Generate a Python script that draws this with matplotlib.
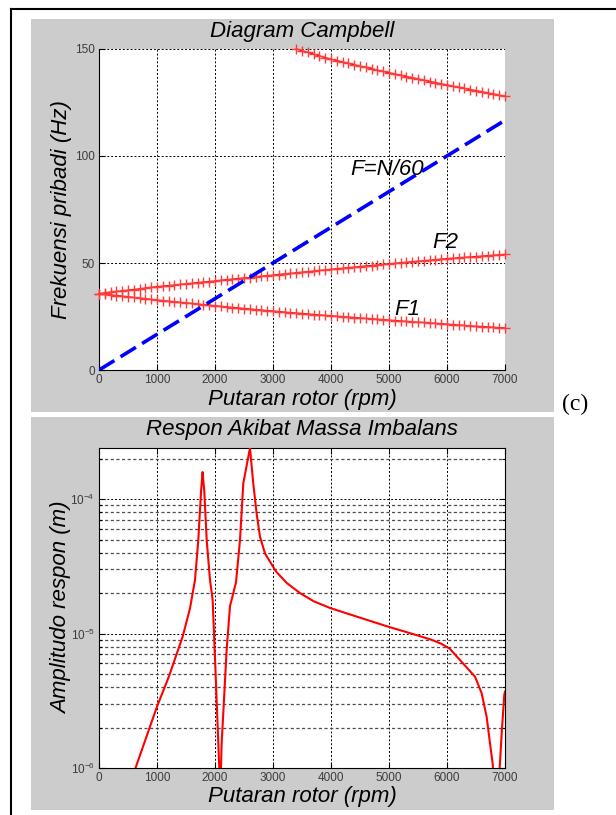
import matplotlib
matplotlib.use('Agg')
import matplotlib.pyplot as plt
from matplotlib.patches import Rectangle
from matplotlib.lines import Line2D
from matplotlib.ticker import NullFormatter, LogLocator
import numpy as np

# ---- Campbell diagram data (Hz vs rpm, sampled every 100 rpm) ----
rpm = np.arange(0, 7100, 100)
f1 = [35.7, 35.4, 35.1, 34.8, 34.5, 34.2, 33.9, 33.6, 33.3, 33.0, 32.7,
      32.4, 32.1, 31.9, 31.6, 31.3, 31.1, 30.8, 30.5, 30.3, 30.0,
      29.7, 29.5, 29.2, 29.0, 28.7, 28.5, 28.2, 28.0, 27.7, 27.5,
      27.3, 27.0, 26.8, 26.6, 26.4, 26.2, 25.9, 25.7, 25.5, 25.3,
      25.1, 24.9, 24.7, 24.5, 24.3, 24.1, 23.9, 23.7, 23.5, 23.3,
      23.1, 22.9, 22.7, 22.5, 22.3, 22.2, 22.0, 21.8, 21.6, 21.4,
      21.2, 21.0, 20.8, 20.6, 20.4, 20.3, 20.1, 19.9, 19.8, 19.6]
f2 = [35.7, 36.0, 36.4, 36.7, 37.0, 37.3, 37.6, 37.9, 38.3, 38.6, 38.9,
      39.2, 39.4, 39.7, 40.0, 40.2, 40.5, 40.8, 41.1, 41.3, 41.6,
      41.9, 42.2, 42.4, 42.7, 43.0, 43.2, 43.5, 43.8, 44.0, 44.3,
      44.6, 44.9, 45.1, 45.4, 45.7, 45.9, 46.2, 46.5, 46.7, 47.0,
      47.3, 47.5, 47.8, 48.0, 48.3, 48.6, 48.8, 49.1, 49.3, 49.6,
      49.8, 50.1, 50.3, 50.6, 50.8, 51.0, 51.3, 51.5, 51.8, 52.0,
      52.2, 52.4, 52.6, 52.8, 53.0, 53.2, 53.4, 53.6, 53.8, 54.0]
rpm3 = np.arange(3400, 7100, 100)
f3 = [150.0, 149.2, 148.4, 147.6, 146.8, 146.0, 145.2,
      144.6, 143.9, 143.3, 142.6, 142.0, 141.4, 140.8, 140.1, 139.5, 138.9,
      138.3, 137.7, 137.1, 136.6, 136.0, 135.4, 134.8, 134.3, 133.7, 133.2,
      132.6, 132.1, 131.6, 131.0, 130.5, 130.0, 129.5, 129.0, 128.4, 127.9]
rpm_line = [0, 7000]
f_line = [0, 116.7]

# ---- unbalance response data (m vs rpm) ----
rpm_resp = [550, 630, 1000, 1206, 1443, 1569, 1655, 1712, 1760, 1786, 1800,
            1815, 1857, 1914, 1960, 2017, 2057, 2074, 2090, 2103, 2115, 2155,
            2200, 2259, 2362, 2431, 2488, 2603, 2660, 2718, 2776, 2862, 2948,
            3050, 3236, 3466, 3700, 3983, 4459, 5000, 5474, 5744, 5900, 6050,
            6224, 6483, 6598, 6684, 6741, 6787, 6827, 6865, 6902, 6943, 6988,
            7000]
amp = [7.0e-7, 1.0e-6, 2.86e-6, 4.8e-6, 9.5e-6, 1.54e-5, 2.5e-5, 4.95e-5,
       1.15e-4, 1.59e-4, 1.35e-4, 1.15e-4, 4.95e-5, 2.5e-5, 1.77e-5, 4.28e-6,
       1.53e-6, 1.0e-6, 4.0e-7, 1.0e-6, 1.53e-6, 3.2e-6, 7.5e-6, 1.6e-5,
       2.4e-5, 4.95e-5, 1.31e-4, 2.4e-4, 1.31e-4, 7.8e-5, 5.25e-5, 3.94e-5,
       3.43e-5, 2.9e-5, 2.38e-5, 2.0e-5, 1.74e-5, 1.55e-5, 1.33e-5, 1.12e-5,
       9.74e-6, 8.95e-6, 8.4e-6, 7.7e-6, 6.35e-6, 4.78e-6, 3.59e-6, 2.4e-6,
       1.53e-6, 1.08e-6, 6.0e-7, 2.0e-7, 9.0e-7, 1.81e-6, 3.5e-6, 3.7e-6]

xticks = [0, 1000, 2000, 3000, 4000, 5000, 6000, 7000]
yticks_top = [0, 50, 100, 150]

plt.rcParams['font.family'] = ['Liberation Sans']
LBL = dict(family='Liberation Sans', style='italic', fontsize=16)
GRID = dict(color='k', linestyle=(0, (2, 2)), linewidth=0.7)

fig = plt.figure(figsize=(6.16, 8.15), dpi=100)
fig.patch.set_facecolor('white')

# gray panels and outer frame
for y0 in (0.4945, 0.0061):
    fig.add_artist(Rectangle((0.0503, y0), 0.849, 0.4822, transform=fig.transFigure,
                             facecolor='#cccccc', edgecolor='none', zorder=-10))
fig.add_artist(Line2D([0.0179, 0.0179], [0.989, 0.0], transform=fig.transFigure,
                      color='k', lw=1.5))
fig.add_artist(Line2D([0.0179, 1.0], [0.989, 0.989], transform=fig.transFigure,
                      color='k', lw=1.5))

# ---- top: Campbell diagram ----
ax = fig.add_axes([0.1607, 0.5460, 0.6591, 0.3939])
ax.set_facecolor('white')
mk = dict(color='red', lw=1.0, marker='+', markersize=7, markeredgewidth=1.0,
          markeredgecolor='#ff3c3c', clip_on=False, zorder=3)
ax.plot(rpm, f1, **mk)
ax.plot(rpm, f2, **mk)
ax.plot(rpm3, f3, **mk)
ax.plot(rpm_line, f_line, color='blue', lw=2.6, linestyle=(0, (5, 2)), zorder=4)
ax.set_xlim(0, 7000)
ax.set_ylim(0, 150)
ax.set_xticks(xticks)
ax.set_yticks(yticks_top)
ax.grid(True, **GRID)
ax.spines['top'].set_visible(False)
ax.spines['right'].set_visible(False)
ax.tick_params(direction='in', length=4, width=0.8, labelsize=8.5,
               labelcolor='#3c3c3c', pad=3)
ax.text(4330, 91.1, 'F=N/60', ha='left', va='baseline', **LBL)
ax.text(5740, 57.0, 'F2', ha='left', va='baseline', **LBL)
ax.text(5100, 25.7, 'F1', ha='left', va='baseline', **LBL)
ax.set_title('Diagram Campbell', pad=8.5, **LBL)
ax.set_xlabel('Putaran rotor (rpm)', **LBL)
ax.set_ylabel('Frekuensi pribadi (Hz)', **LBL)
ax.xaxis.set_label_coords(0.5, -0.059)
ax.yaxis.set_label_coords(-0.066, 0.5)

# ---- bottom: unbalance response ----
ax2 = fig.add_axes([0.1607, 0.0577, 0.6591, 0.3926])
ax2.set_facecolor('white')
ax2.plot(rpm_resp, amp, color='red', lw=1.5, zorder=3)
ax2.set_yscale('log')
ax2.set_xlim(0, 7000)
ax2.set_ylim(1e-6, 2.4e-4)
ax2.set_xticks(xticks)
ax2.yaxis.set_major_locator(LogLocator(base=10))
ax2.yaxis.set_minor_locator(LogLocator(base=10, subs=np.arange(2, 10)))
ax2.yaxis.set_minor_formatter(NullFormatter())
ax2.grid(True, which='major', **GRID)
ax2.grid(True, which='minor', axis='y', color='0.3', linestyle=(0, (2.5, 2)),
         linewidth=0.9)
ax2.tick_params(which='both', direction='in', top=True, right=True, width=0.8,
                labelsize=8.5, labelcolor='#3c3c3c', pad=3)
ax2.tick_params(which='major', length=4)
ax2.tick_params(which='minor', length=2)
ax2.set_title('Respon Akibat Massa Imbalans', pad=9.4, **LBL)
ax2.set_xlabel('Putaran rotor (rpm)', **LBL)
ax2.set_ylabel('Amplitudo respon (m)', **LBL)
ax2.xaxis.set_label_coords(0.5, -0.056)
ax2.yaxis.set_label_coords(-0.066, 0.5)

fig.text(0.9335, 0.5043, '(c)', family='Liberation Serif', fontsize=17,
         ha='center', va='center')

fig.savefig('out.png', dpi=100)
